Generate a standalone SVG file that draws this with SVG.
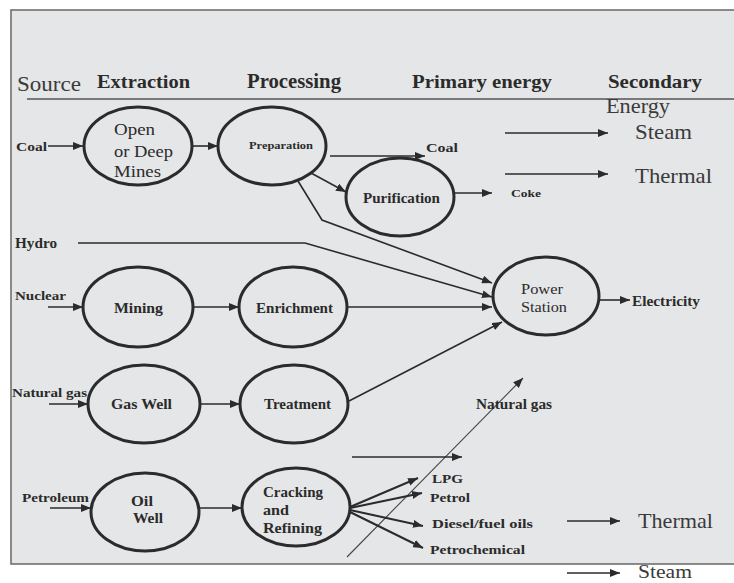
<svg xmlns="http://www.w3.org/2000/svg" width="734" height="583" viewBox="0 0 734 583">
<defs>
<marker id="ah" viewBox="0 0 10 8" refX="10" refY="4" markerWidth="10" markerHeight="8" markerUnits="userSpaceOnUse" orient="auto">
<path d="M0,0 L10,4 L0,8 Z" fill="#2b2b2b"/>
</marker>
<style>
.bg{fill:#e5e6e7;stroke:#707070;stroke-width:1.6}
.node{fill:none;stroke:#2b2b2b;stroke-width:3}
.c{fill:none;stroke:#2b2b2b;stroke-width:1.6;marker-end:url(#ah)}
.thin{fill:none;stroke:#444;stroke-width:1.1}
text{font-family:'Liberation Serif','Times New Roman','DejaVu Serif',serif;fill:#2b2b2b}
.h{font-weight:bold;font-size:18px}
.r{font-size:21px;fill:#3a3a3a}
.l{font-weight:bold;font-size:13px}
.n{font-weight:bold;font-size:15px}
.nr{font-weight:normal;font-size:16px}
</style>
</defs>
<rect class="bg" x="11" y="10" width="730" height="554"/>
<line x1="27" y1="99" x2="734" y2="99" stroke="#555" stroke-width="1.4"/>
<g id="headers">
<text class="r" x="17" y="91" textLength="64" lengthAdjust="spacingAndGlyphs">Source</text>
<text class="h" x="97" y="88" textLength="93" lengthAdjust="spacingAndGlyphs">Extraction</text>
<text class="h" x="247" y="88" style="font-size:20px" textLength="94" lengthAdjust="spacingAndGlyphs">Processing</text>
<text class="h" x="412" y="88" textLength="140" lengthAdjust="spacingAndGlyphs">Primary energy</text>
<text class="h" x="608" y="88" textLength="94" lengthAdjust="spacingAndGlyphs">Secondary</text>
<text class="r" x="606" y="113" style="font-size:20px" textLength="64" lengthAdjust="spacingAndGlyphs">Energy</text>
</g>
<g id="connectors">
<line class="c" x1="48" y1="146" x2="83" y2="146"/>
<line class="c" x1="192" y1="146" x2="218" y2="146"/>
<line class="c" x1="330" y1="156" x2="425" y2="156"/>
<line class="c" x1="311" y1="173" x2="346" y2="192"/>
<polyline class="c" points="298,181 322,220 492,283"/>
<polyline class="c" points="78,243 305,243 492,297"/>
<line class="c" x1="454" y1="193" x2="492" y2="193"/>
<line class="c" x1="505" y1="133" x2="608" y2="133"/>
<line class="c" x1="505" y1="174" x2="608" y2="174"/>
<line class="c" x1="48" y1="307" x2="83" y2="307"/>
<line class="c" x1="193" y1="307" x2="239" y2="307"/>
<line class="c" x1="348" y1="307" x2="492" y2="307"/>
<line class="c" x1="49" y1="404" x2="88" y2="404"/>
<line class="c" x1="199" y1="404" x2="240" y2="404"/>
<line class="c" x1="349" y1="401" x2="502" y2="322"/>
<line class="c" x1="599" y1="300" x2="630" y2="300"/>
<line class="thin" x1="347" y1="557" x2="523" y2="378" marker-end="url(#ah)"/>
<line class="c" x1="352" y1="457" x2="462" y2="457"/>
<line class="c" x1="50" y1="508" x2="91" y2="508"/>
<line class="c" x1="198" y1="508" x2="242" y2="508"/>
<line class="c" x1="350" y1="507" x2="418" y2="478" style="stroke-width:2"/>
<line class="c" x1="350" y1="508" x2="422" y2="493" style="stroke-width:2"/>
<line class="c" x1="350" y1="510" x2="423" y2="526" style="stroke-width:2"/>
<line class="c" x1="350" y1="512" x2="423" y2="548" style="stroke-width:2"/>
<line class="c" x1="567" y1="521" x2="620" y2="521"/>
<line class="c" x1="567" y1="573" x2="620" y2="573"/>
</g>
<g id="labels">
<text class="l" x="16" y="151" textLength="31" lengthAdjust="spacingAndGlyphs">Coal</text>
<text class="l" x="426" y="152" textLength="32" lengthAdjust="spacingAndGlyphs">Coal</text>
<text class="l" x="511" y="197" style="font-size:11px" textLength="30" lengthAdjust="spacingAndGlyphs">Coke</text>
<text class="r" x="635" y="139" textLength="57" lengthAdjust="spacingAndGlyphs">Steam</text>
<text class="r" x="635" y="183" textLength="77" lengthAdjust="spacingAndGlyphs">Thermal</text>
<text class="l" x="15" y="248" style="font-size:14px" textLength="42" lengthAdjust="spacingAndGlyphs">Hydro</text>
<text class="l" x="15" y="300" textLength="51" lengthAdjust="spacingAndGlyphs">Nuclear</text>
<text class="l" x="12" y="397" textLength="75" lengthAdjust="spacingAndGlyphs">Natural gas</text>
<text class="l" x="632" y="306" style="font-size:14px" textLength="68" lengthAdjust="spacingAndGlyphs">Electricity</text>
<text class="l" x="476" y="409" style="font-size:14px" textLength="76" lengthAdjust="spacingAndGlyphs">Natural gas</text>
<text class="l" x="22" y="502" textLength="67" lengthAdjust="spacingAndGlyphs">Petroleum</text>
<text class="l" x="432" y="483" textLength="31" lengthAdjust="spacingAndGlyphs">LPG</text>
<text class="l" x="430" y="502" textLength="40" lengthAdjust="spacingAndGlyphs">Petrol</text>
<text class="l" x="432" y="528" textLength="101" lengthAdjust="spacingAndGlyphs">Diesel/fuel oils</text>
<text class="l" x="430" y="554" textLength="95" lengthAdjust="spacingAndGlyphs">Petrochemical</text>
<text class="r" x="638" y="528" textLength="75" lengthAdjust="spacingAndGlyphs">Thermal</text>
<text class="r" x="638" y="578" style="font-size:19px" textLength="54" lengthAdjust="spacingAndGlyphs">Steam</text>
</g>
<g id="open-deep-mines">
<ellipse class="node" cx="138" cy="146" rx="54" ry="39"/>
<text class="nr" x="114" y="135" textLength="41" lengthAdjust="spacingAndGlyphs">Open</text>
<text class="nr" x="114" y="157" textLength="59" lengthAdjust="spacingAndGlyphs">or Deep</text>
<text class="nr" x="114" y="177" textLength="47" lengthAdjust="spacingAndGlyphs">Mines</text>
</g>
<g id="preparation">
<ellipse class="node" cx="272" cy="146" rx="54" ry="39"/>
<text class="n" x="249" y="149" style="font-size:11px" textLength="64" lengthAdjust="spacingAndGlyphs">Preparation</text>
</g>
<g id="purification">
<ellipse class="node" cx="400" cy="197" rx="54" ry="39"/>
<text class="n" x="363" y="203" textLength="77" lengthAdjust="spacingAndGlyphs">Purification</text>
</g>
<g id="power-station">
<ellipse class="node" cx="546" cy="296" rx="53" ry="39"/>
<text class="nr" x="521" y="294" style="font-size:15px" textLength="42" lengthAdjust="spacingAndGlyphs">Power</text>
<text class="nr" x="521" y="312" style="font-size:15px" textLength="46" lengthAdjust="spacingAndGlyphs">Station</text>
</g>
<g id="mining">
<ellipse class="node" cx="138" cy="307" rx="55" ry="40"/>
<text class="n" x="114" y="313" textLength="49" lengthAdjust="spacingAndGlyphs">Mining</text>
</g>
<g id="enrichment">
<ellipse class="node" cx="293" cy="307" rx="54" ry="40"/>
<text class="n" x="256" y="313" textLength="77" lengthAdjust="spacingAndGlyphs">Enrichment</text>
</g>
<g id="gas-well">
<ellipse class="node" cx="144" cy="404" rx="56" ry="39"/>
<text class="n" x="111" y="409" textLength="61" lengthAdjust="spacingAndGlyphs">Gas Well</text>
</g>
<g id="treatment">
<ellipse class="node" cx="294" cy="404" rx="54" ry="39"/>
<text class="n" x="264" y="409" textLength="67" lengthAdjust="spacingAndGlyphs">Treatment</text>
</g>
<g id="oil-well">
<ellipse class="node" cx="145" cy="512" rx="54" ry="39"/>
<text class="n" x="131" y="506" textLength="22" lengthAdjust="spacingAndGlyphs">Oil</text>
<text class="n" x="133" y="523" textLength="30" lengthAdjust="spacingAndGlyphs">Well</text>
</g>
<g id="cracking-refining">
<ellipse class="node" cx="296" cy="507" rx="54" ry="39"/>
<text class="n" x="263" y="497" textLength="60" lengthAdjust="spacingAndGlyphs">Cracking</text>
<text class="n" x="263" y="515" textLength="26" lengthAdjust="spacingAndGlyphs">and</text>
<text class="n" x="263" y="533" textLength="59" lengthAdjust="spacingAndGlyphs">Refining</text>
</g>
</svg>
